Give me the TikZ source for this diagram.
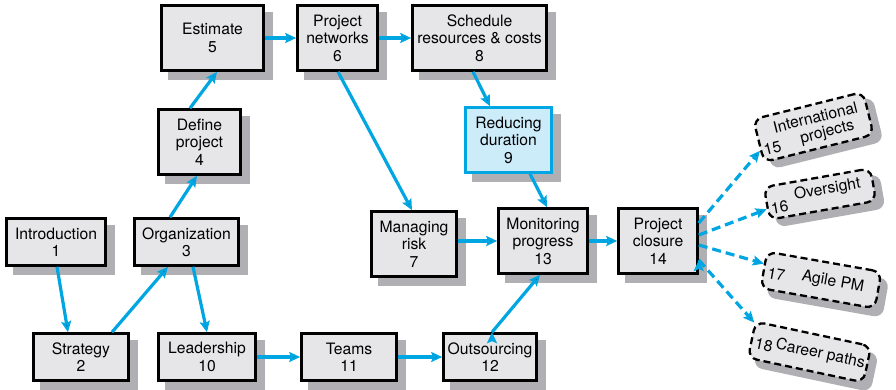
\documentclass[tikz,border=0pt]{standalone}
\usepackage{fontspec}
\setmainfont{TeX Gyre Heros}
\usetikzlibrary{arrows.meta,backgrounds}
\definecolor{flowblue}{RGB}{0,166,226}
\definecolor{boxgrey}{RGB}{230,230,232}
\definecolor{dropgrey}{RGB}{176,176,180}
\definecolor{paleblue}{RGB}{205,236,250}

\begin{document}
\begin{tikzpicture}[x=1pt,y=-1pt,>={Stealth[length=11pt,width=10pt,inset=2pt]},
  font=\fontsize{15.7}{17.4}\selectfont,
  chap/.style={draw,line width=2.6pt,fill=boxgrey,align=center,inner sep=0pt},
  extra/.style={draw,line width=2.3pt,dash pattern=on 7pt off 4pt,rounded corners=9pt,
    fill=boxgrey,inner sep=0pt},
  blot/.style={fill=dropgrey,rounded corners=9pt,inner sep=0pt},
  flow/.style={->,draw=flowblue,line width=3.2pt},
  dashflow/.style={flow,dash pattern=on 9pt off 5pt}]
  \useasboundingbox (0,0) rectangle (896,390);

  \node[chap,minimum width=99pt,minimum height=47pt] (intro) at (56,242) {Introduction\\1};
  \node[chap,minimum width=95pt,minimum height=47pt] (strat) at (81,357) {Strategy\\2};
  \node[chap,minimum width=104pt,minimum height=47pt] (org) at (186.5,242) {Organization\\3};
  \node[chap,minimum width=82pt,minimum height=65pt] (define) at (199.5,142) {Define\\project\\4};
  \node[chap,minimum width=102pt,minimum height=65pt] (est) at (212.5,38) {Estimate\\5};
  \node[chap,minimum width=80pt,minimum height=65pt] (netw) at (337.5,38) {Project\\networks\\6};
  \node[chap,minimum width=85pt,minimum height=65pt] (risk) at (414,244) {Managing\\risk\\7};
  \node[chap,minimum width=134pt,minimum height=65pt] (sched) at (479.5,38) {Schedule\\resources \& costs\\8};
  \node[chap,draw=flowblue,fill=paleblue,minimum width=86pt,minimum height=65pt] (reduce) at (508.5,140) {Reducing\\duration\\9};
  \node[chap,minimum width=97pt,minimum height=47pt] (lead) at (207,357) {Leadership\\10};
  \node[chap,minimum width=95pt,minimum height=47pt] (teams) at (349,357) {Teams\\11};
  \node[chap,minimum width=93pt,minimum height=47pt] (outs) at (490,357) {Outsourcing\\12};
  \node[chap,minimum width=89pt,minimum height=65pt] (monit) at (543,241) {Monitoring\\progress\\13};
  \node[chap,minimum width=79pt,minimum height=65pt] (close) at (658,241) {Project\\closure\\14};

  \begin{scope}[on background layer]
    \foreach \n in {intro,strat,org,define,est,netw,risk,sched,reduce,lead,teams,outs,monit,close}
      \fill[dropgrey] ([shift={(8pt,-8pt)}]\n.north west) rectangle ([shift={(8pt,-8pt)}]\n.south east);
  \end{scope}

  \begin{scope}[shift={(813.5,127)},rotate=14,transform shape]
    \node[blot,minimum width=115pt,minimum height=46pt] (intlS) at (7,8) {};
    \node[extra,minimum width=113pt,minimum height=44pt] (intl) at (0,0) {};
    \node[inner sep=0pt] (intlA) at (4,-9) {International};
    \node[inner sep=0pt] (intlB) at (12,9) {projects};
    \node[inner sep=0pt] (intlN) at (-45,11) {15};
  \end{scope}
  \begin{scope}[shift={(820,194)},rotate=10,transform shape]
    \node[blot,minimum width=110pt,minimum height=35pt] (overS) at (7,8) {};
    \node[extra,minimum width=108pt,minimum height=33pt] (over) at (0,0) {};
    \node[inner sep=0pt] (overA) at (8,-3) {Oversight};
    \node[inner sep=0pt] (overN) at (-42,6) {16};
  \end{scope}
  \begin{scope}[shift={(821,280)},rotate=-10,transform shape]
    \node[blot,minimum width=118pt,minimum height=39pt] (agileS) at (8,7) {};
    \node[extra,minimum width=116pt,minimum height=37pt] (agile) at (0,0) {};
    \node[inner sep=0pt] (agileA) at (12,0) {Agile PM};
    \node[inner sep=0pt] (agileN) at (-45,2) {17};
  \end{scope}
  \begin{scope}[shift={(809.5,352)},rotate=-12,transform shape]
    \node[blot,minimum width=120pt,minimum height=39pt] (careerS) at (8,7) {};
    \node[extra,minimum width=118pt,minimum height=37pt] (career) at (0,0) {};
    \node[inner sep=0pt] (careerA) at (11,0) {Career paths};
    \node[inner sep=0pt] (careerN) at (-46,3) {18};
  \end{scope}

  \path[flow]
    ([xshift=1pt]intro.south) edge ([xshift=-13pt]strat.north)
    ([xshift=31pt]strat.north) edge ([xshift=-18.5pt]org.south)
    ([xshift=6.5pt]org.south) edge (lead.north)
    ([xshift=-16.5pt]org.north) edge ([xshift=-2.5pt]define.south)
    ([xshift=-9.5pt]define.north) edge ([xshift=4.5pt]est.south)
    (est) edge (netw)
    (netw) edge (sched)
    ([xshift=0.5pt]netw.south) edge ([xshift=-2pt]risk.north)
    ([xshift=-6.5pt]sched.south) edge ([xshift=-18.5pt]reduce.north)
    ([xshift=21.5pt]reduce.south) edge ([xshift=4pt]monit.north)
    ([yshift=3pt]risk.east) edge (monit.west)
    (monit) edge (close)
    (lead) edge (teams)
    (teams) edge (outs)
    ([xshift=2pt]outs.north) edge ([xshift=-3pt]monit.south);
  \path[dashflow]
    ([yshift=18pt]close.east) edge (intl.190)
    ([yshift=6pt]close.east) edge (over.186)
    ([yshift=-4pt]close.east) edge (agile.174)
    ([yshift=-19pt]close.east) edge (career.164);
\end{tikzpicture}
\end{document}
